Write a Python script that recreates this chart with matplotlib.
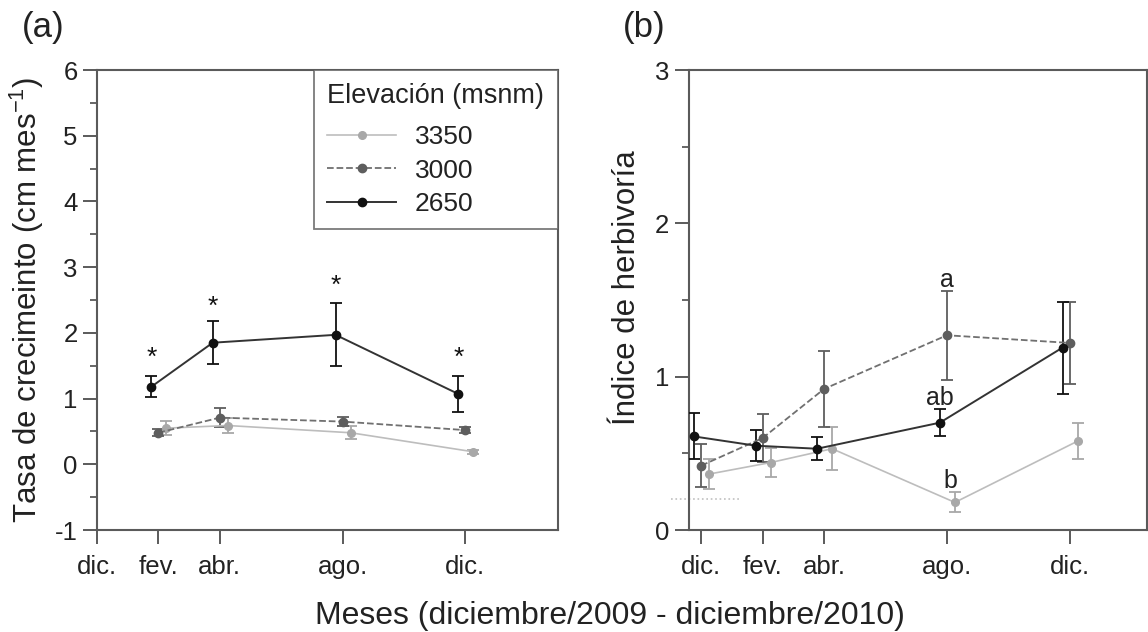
import matplotlib
matplotlib.use("Agg")
import matplotlib.pyplot as plt
from matplotlib.ticker import MultipleLocator

plt.rcParams['font.family'] = ['Liberation Sans', 'DejaVu Sans']
plt.rcParams['axes.unicode_minus'] = False

# ---- data ----
tick_pos = [0, 2, 4, 8, 12]
tick_labels = ["dic.", "fev.", "abr.", "ago.", "dic."]
series = ["3350", "3000", "2650"]
offsets = {"3350": 0.26, "3000": 0.0, "2650": -0.23}

# (a) growth rate (months fev, abr, ago, dic)
months_a = [2, 4, 8, 12]
growth = {
    "2650": [1.18, 1.85, 1.97, 1.07],
    "3000": [0.48, 0.71, 0.65, 0.52],
    "3350": [0.55, 0.59, 0.48, 0.19],
}
growth_err = {
    "2650": [0.16, 0.33, 0.48, 0.28],
    "3000": [0.05, 0.15, 0.07, 0.05],
    "3350": [0.11, 0.12, 0.10, 0.03],
}
stars_y = [1.62, 2.40, 2.72, 1.62]

# (b) herbivory index (months dic, fev, abr, ago, dic)
months_b = [0, 2, 4, 8, 12]
herb = {
    "2650": [0.61, 0.55, 0.53, 0.70, 1.19],
    "3000": [0.42, 0.60, 0.92, 1.27, 1.22],
    "3350": [0.365, 0.44, 0.53, 0.18, 0.58],
}
herb_err = {
    "2650": [0.15, 0.10, 0.075, 0.09, 0.30],
    "3000": [0.14, 0.155, 0.245, 0.29, 0.265],
    "3350": [0.10, 0.095, 0.14, 0.065, 0.12],
}
letters = [("a", 8.0, 1.63), ("ab", 7.76, 0.86), ("b", 8.1, 0.32)]

styles = {
    "3350": dict(color="#a8a8a8", line="#bdbdbd", ls="-", lw=1.2, ms=5.5),
    "3000": dict(color="#5e5e5e", line="#707070", ls="--", lw=1.3, ms=6),
    "2650": dict(color="#111111", line="#333333", ls="-", lw=1.4, ms=6),
}

W, H = 1148, 632
fig = plt.figure(figsize=(W / 100, H / 100), dpi=100)
ax1 = fig.add_axes([97 / W, (H - 530) / H, 460.5 / W, 460 / H])
ax2 = fig.add_axes([688.7 / W, (H - 530) / H, 457.8 / W, 460 / H])

spine_c = "#5a5a5a"
for ax in (ax1, ax2):
    for s in ax.spines.values():
        s.set_color(spine_c)
        s.set_linewidth(1.5)
    ax.tick_params(axis='both', which='major', direction='out', length=10, width=1.4,
                   color=spine_c, labelsize=18.5, labelcolor="#222222", pad=4)
    ax.tick_params(axis='y', which='minor', direction='out', length=5, width=1.3, color=spine_c)
    ax.set_xticks(tick_pos)
    ax.set_xticklabels(tick_labels)
    ax.tick_params(axis='x', pad=8)

def draw(ax, months, vals, errs):
    handles = {}
    for s in ["3350", "3000", "2650"]:
        st = styles[s]
        xs = [m + offsets[s] for m in months]
        ax.errorbar(xs, vals[s], yerr=errs[s], color=st["color"], ecolor=st["color"],
                    elinewidth=1.3, capsize=4, capthick=1.3, fmt='none', zorder=3)
        l, = ax.plot(xs, vals[s], color=st["line"], ls=st["ls"], lw=st["lw"],
                     marker='o', ms=st["ms"], mfc=st["color"], mec=st["color"], zorder=4)
        handles[s] = l
    return handles

h = draw(ax1, months_a, growth, growth_err)
ax1.set_xlim(0, 15)
ax1.set_ylim(-1, 6)
ax1.yaxis.set_major_locator(MultipleLocator(1))
ax1.yaxis.set_minor_locator(MultipleLocator(0.5))
for m, ys in zip(months_a, stars_y):
    ax1.text(m + offsets["2650"], ys, "*", ha="center", va="center", fontsize=19, color="#111111")

leg = ax1.legend([h["3350"], h["3000"], h["2650"]], series, title="Elevación (msnm)",
                 loc="upper right", borderaxespad=0, fontsize=19, title_fontsize=19.5,
                 fancybox=False, frameon=True, handlelength=2.6, handletextpad=0.7,
                 borderpad=0.5, labelspacing=0.36, alignment="left")
leg._legend_box.sep = 11.5
leg.get_frame().set_edgecolor(spine_c)
leg.get_frame().set_linewidth(1.3)
for t in leg.get_texts():
    t.set_color("#222222")
leg.get_title().set_color("#222222")

draw(ax2, months_b, herb, herb_err)
ax2.set_xlim(-0.41, 14.5)
ax2.set_ylim(0, 3)
ax2.yaxis.set_major_locator(MultipleLocator(1))
ax2.yaxis.set_minor_locator(MultipleLocator(0.5))
for t, x, y in letters:
    ax2.text(x, y, t, ha="center", va="center", fontsize=18, color="#222222")
ax2.plot([-1.0, 1.23], [0.2, 0.2], ls=":", color="#c0c0c0", lw=1.2, clip_on=False, zorder=1)

fig.text(27 / W, 1 - 300 / H, "Tasa de crecimeinto (cm mes$^{\\mathregular{-1}}$)", fontsize=22.5,
         rotation=90, ha="center", va="center", color="#222222")
fig.text(627 / W, 1 - 288 / H, "Índice de herbivoría", fontsize=22.5,
         rotation=90, ha="center", va="center", color="#222222")
fig.text(43 / W, 1 - 28 / H, "(a)", fontsize=25, va="center", ha="center", color="#222222")
fig.text(644 / W, 1 - 28 / H, "(b)", fontsize=25, va="center", ha="center", color="#222222")
fig.text(610 / W, 1 - 616 / H, "Meses (diciembre/2009 - diciembre/2010)", fontsize=23,
         ha="center", va="center", color="#222222")

fig.savefig("out.png", dpi=100)
